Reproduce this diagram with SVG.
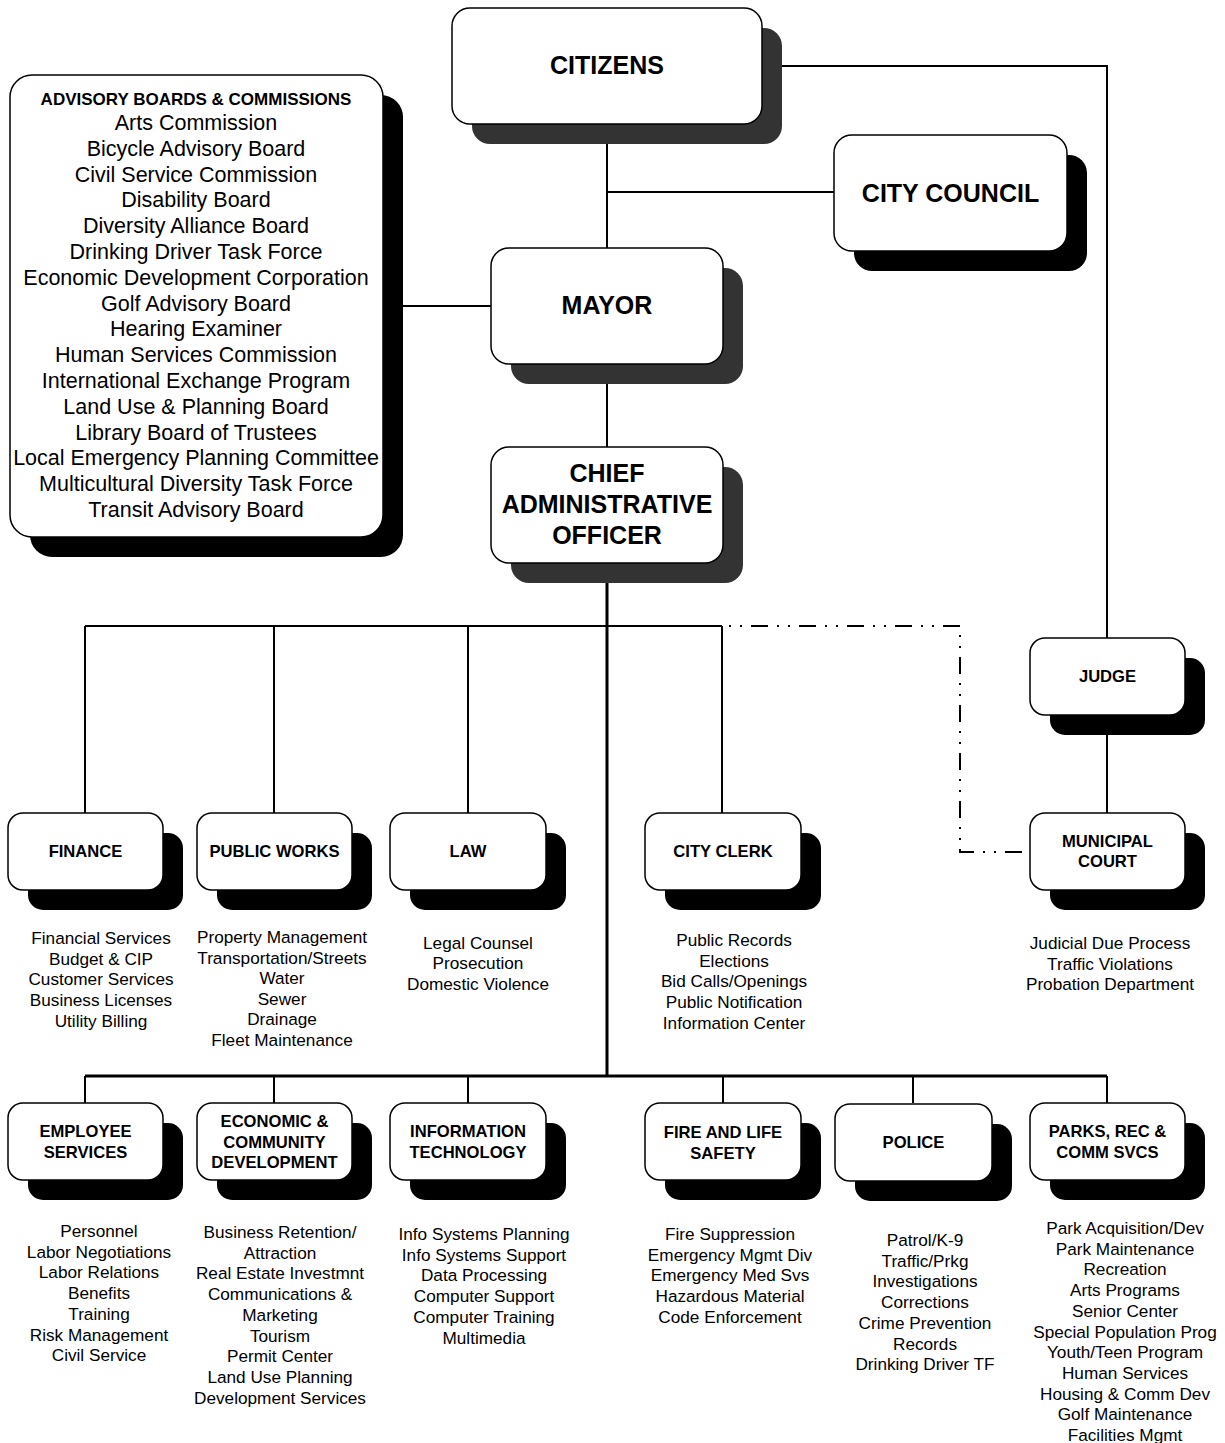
<svg xmlns="http://www.w3.org/2000/svg" width="1225" height="1443" viewBox="0 0 1225 1443">
<style>
.bx{fill:#fff;stroke:#000;stroke-width:1.5}
.sd{fill:#000}
.sg{fill:#333}
.big{font-family:"Liberation Sans",Arial,sans-serif;font-weight:bold;font-size:25px;text-anchor:middle}
.hd{font-family:"Liberation Sans",Arial,sans-serif;font-weight:bold;font-size:16.6px;text-anchor:middle}
.li{font-family:"Liberation Sans",Arial,sans-serif;font-size:17.2px;text-anchor:middle}
.ad{font-family:"Liberation Sans",Arial,sans-serif;font-size:21.5px;text-anchor:middle}
.adh{font-family:"Liberation Sans",Arial,sans-serif;font-weight:bold;font-size:17px;text-anchor:middle}
.ln{fill:none;stroke:#000;stroke-width:2}
.th{fill:none;stroke:#000;stroke-width:3}
.dd{fill:none;stroke:#000;stroke-width:2;stroke-dasharray:17 9 2 9 2 9}
</style>
<g id="connectors">
<path class="ln" d="M762 66 H1107 V638"/>
<path class="ln" d="M607 144 V248"/>
<path class="ln" d="M607 192 H834"/>
<path class="ln" d="M383 306 H491"/>
<path class="ln" d="M607 384 V447"/>
<path class="th" d="M607 583 V1076"/>
<path class="ln" d="M85 626 H722"/>
<path class="ln" d="M85 626 V813 M274 626 V813 M468 626 V813 M722 626 V813"/>
<path class="dd" d="M607 626 H960 V852 H1030"/>
<path class="ln" d="M1107 735 V813"/>
<path class="th" d="M85 1076 H1107"/>
<path class="ln" d="M85 1076 V1103 M274 1076 V1103 M468 1076 V1103 M723 1076 V1103 M913 1076 V1103 M1107 1076 V1103"/>
</g>
<g id="citizens">
<rect class="sg" x="472" y="28" width="310" height="116" rx="18"/>
<rect class="bx" x="452" y="8" width="310" height="116" rx="18"/>
<text class="big" x="607" y="74">CITIZENS</text>
</g>
<g id="city-council">
<rect class="sd" x="854" y="155" width="233" height="116" rx="18"/>
<rect class="bx" x="834" y="135" width="233" height="116" rx="18"/>
<text class="big" x="950.5" y="202">CITY COUNCIL</text>
</g>
<g id="mayor">
<rect class="sg" x="511" y="268" width="232" height="116" rx="18"/>
<rect class="bx" x="491" y="248" width="232" height="116" rx="18"/>
<text class="big" x="607" y="314">MAYOR</text>
</g>
<g id="cao">
<rect class="sg" x="511" y="467" width="232" height="116" rx="18"/>
<rect class="bx" x="491" y="447" width="232" height="116" rx="18"/>
<text class="big" x="607" y="482">CHIEF</text>
<text class="big" x="607" y="513">ADMINISTRATIVE</text>
<text class="big" x="607" y="544">OFFICER</text>
</g>
<g id="advisory">
<rect class="sd" x="30" y="95" width="373" height="462" rx="22"/>
<rect class="bx" x="10" y="75" width="373" height="462" rx="22"/>
<text class="adh" x="196" y="105">ADVISORY BOARDS &amp; COMMISSIONS</text>
<text class="ad" x="196" y="130">Arts Commission</text>
<text class="ad" x="196" y="155.8">Bicycle Advisory Board</text>
<text class="ad" x="196" y="181.6">Civil Service Commission</text>
<text class="ad" x="196" y="207.4">Disability Board</text>
<text class="ad" x="196" y="233.2">Diversity Alliance Board</text>
<text class="ad" x="196" y="259">Drinking Driver Task Force</text>
<text class="ad" x="196" y="284.8">Economic Development Corporation</text>
<text class="ad" x="196" y="310.6">Golf Advisory Board</text>
<text class="ad" x="196" y="336.4">Hearing Examiner</text>
<text class="ad" x="196" y="362.2">Human Services Commission</text>
<text class="ad" x="196" y="388">International Exchange Program</text>
<text class="ad" x="196" y="413.8">Land Use &amp; Planning Board</text>
<text class="ad" x="196" y="439.6">Library Board of Trustees</text>
<text class="ad" x="196" y="465.4">Local Emergency Planning Committee</text>
<text class="ad" x="196" y="491.2">Multicultural Diversity Task Force</text>
<text class="ad" x="196" y="517">Transit Advisory Board</text>
</g>
<g id="judge">
<rect class="sd" x="1050" y="658" width="155" height="77" rx="15"/>
<rect class="bx" x="1030" y="638" width="155" height="77" rx="15"/>
<text class="hd" x="1107.5" y="682">JUDGE</text>
</g>
<g id="finance">
<rect class="sd" x="28" y="833" width="155" height="77" rx="15"/>
<rect class="bx" x="8" y="813" width="155" height="77" rx="15"/>
<text class="hd" x="85.5" y="857">FINANCE</text>
<text class="li" x="101" y="944">Financial Services</text>
<text class="li" x="101" y="964.7">Budget &amp; CIP</text>
<text class="li" x="101" y="985.4">Customer Services</text>
<text class="li" x="101" y="1006.1">Business Licenses</text>
<text class="li" x="101" y="1026.8">Utility Billing</text>
</g>
<g id="public-works">
<rect class="sd" x="217" y="833" width="155" height="77" rx="15"/>
<rect class="bx" x="197" y="813" width="155" height="77" rx="15"/>
<text class="hd" x="274.5" y="857">PUBLIC WORKS</text>
<text class="li" x="282" y="943">Property Management</text>
<text class="li" x="282" y="963.5">Transportation/Streets</text>
<text class="li" x="282" y="984">Water</text>
<text class="li" x="282" y="1004.5">Sewer</text>
<text class="li" x="282" y="1025">Drainage</text>
<text class="li" x="282" y="1045.5">Fleet Maintenance</text>
</g>
<g id="law">
<rect class="sd" x="410" y="833" width="156" height="77" rx="15"/>
<rect class="bx" x="390" y="813" width="156" height="77" rx="15"/>
<text class="hd" x="468" y="857">LAW</text>
<text class="li" x="478" y="948.5">Legal Counsel</text>
<text class="li" x="478" y="969">Prosecution</text>
<text class="li" x="478" y="989.5">Domestic Violence</text>
</g>
<g id="city-clerk">
<rect class="sd" x="665" y="833" width="156" height="77" rx="15"/>
<rect class="bx" x="645" y="813" width="156" height="77" rx="15"/>
<text class="hd" x="723" y="857">CITY CLERK</text>
<text class="li" x="734" y="946">Public Records</text>
<text class="li" x="734" y="966.7">Elections</text>
<text class="li" x="734" y="987.4">Bid Calls/Openings</text>
<text class="li" x="734" y="1008.1">Public Notification</text>
<text class="li" x="734" y="1028.8">Information Center</text>
</g>
<g id="municipal-court">
<rect class="sd" x="1050" y="833" width="155" height="77" rx="15"/>
<rect class="bx" x="1030" y="813" width="155" height="77" rx="15"/>
<text class="hd" x="1107.5" y="847">MUNICIPAL</text>
<text class="hd" x="1107.5" y="867">COURT</text>
<text class="li" x="1110" y="949">Judicial Due Process</text>
<text class="li" x="1110" y="969.5">Traffic Violations</text>
<text class="li" x="1110" y="990">Probation Department</text>
</g>
<g id="employee-services">
<rect class="sd" x="28" y="1123" width="155" height="77" rx="15"/>
<rect class="bx" x="8" y="1103" width="155" height="77" rx="15"/>
<text class="hd" x="85.5" y="1137">EMPLOYEE</text>
<text class="hd" x="85.5" y="1158">SERVICES</text>
<text class="li" x="99" y="1237">Personnel</text>
<text class="li" x="99" y="1257.7">Labor Negotiations</text>
<text class="li" x="99" y="1278.4">Labor Relations</text>
<text class="li" x="99" y="1299.1">Benefits</text>
<text class="li" x="99" y="1319.8">Training</text>
<text class="li" x="99" y="1340.5">Risk Management</text>
<text class="li" x="99" y="1361.2">Civil Service</text>
</g>
<g id="economic-community-development">
<rect class="sd" x="217" y="1123" width="155" height="77" rx="15"/>
<rect class="bx" x="197" y="1103" width="155" height="77" rx="15"/>
<text class="hd" x="274.5" y="1127">ECONOMIC &amp;</text>
<text class="hd" x="274.5" y="1147.5">COMMUNITY</text>
<text class="hd" x="274.5" y="1168">DEVELOPMENT</text>
<text class="li" x="280" y="1238">Business Retention/</text>
<text class="li" x="280" y="1258.7">Attraction</text>
<text class="li" x="280" y="1279.4">Real Estate Investmnt</text>
<text class="li" x="280" y="1300.1">Communications &amp;</text>
<text class="li" x="280" y="1320.8">Marketing</text>
<text class="li" x="280" y="1341.5">Tourism</text>
<text class="li" x="280" y="1362.2">Permit Center</text>
<text class="li" x="280" y="1382.9">Land Use Planning</text>
<text class="li" x="280" y="1403.6">Development Services</text>
</g>
<g id="information-technology">
<rect class="sd" x="410" y="1123" width="156" height="77" rx="15"/>
<rect class="bx" x="390" y="1103" width="156" height="77" rx="15"/>
<text class="hd" x="468" y="1137">INFORMATION</text>
<text class="hd" x="468" y="1158">TECHNOLOGY</text>
<text class="li" x="484" y="1240">Info Systems Planning</text>
<text class="li" x="484" y="1260.7">Info Systems Support</text>
<text class="li" x="484" y="1281.4">Data Processing</text>
<text class="li" x="484" y="1302.1">Computer Support</text>
<text class="li" x="484" y="1322.8">Computer Training</text>
<text class="li" x="484" y="1343.5">Multimedia</text>
</g>
<g id="fire-life-safety">
<rect class="sd" x="665" y="1123" width="156" height="77" rx="15"/>
<rect class="bx" x="645" y="1103" width="156" height="77" rx="15"/>
<text class="hd" x="723" y="1138">FIRE AND LIFE</text>
<text class="hd" x="723" y="1159">SAFETY</text>
<text class="li" x="730" y="1240">Fire Suppression</text>
<text class="li" x="730" y="1260.7">Emergency Mgmt Div</text>
<text class="li" x="730" y="1281.4">Emergency Med Svs</text>
<text class="li" x="730" y="1302.1">Hazardous Material</text>
<text class="li" x="730" y="1322.8">Code Enforcement</text>
</g>
<g id="police">
<rect class="sd" x="855" y="1124" width="157" height="77" rx="15"/>
<rect class="bx" x="835" y="1104" width="157" height="77" rx="15"/>
<text class="hd" x="913.5" y="1148">POLICE</text>
<text class="li" x="925" y="1246">Patrol/K-9</text>
<text class="li" x="925" y="1266.7">Traffic/Prkg</text>
<text class="li" x="925" y="1287.4">Investigations</text>
<text class="li" x="925" y="1308.1">Corrections</text>
<text class="li" x="925" y="1328.8">Crime Prevention</text>
<text class="li" x="925" y="1349.5">Records</text>
<text class="li" x="925" y="1370.2">Drinking Driver TF</text>
</g>
<g id="parks-rec">
<rect class="sd" x="1050" y="1123" width="155" height="77" rx="15"/>
<rect class="bx" x="1030" y="1103" width="155" height="77" rx="15"/>
<text class="hd" x="1107.5" y="1137">PARKS, REC &amp;</text>
<text class="hd" x="1107.5" y="1158">COMM SVCS</text>
<text class="li" x="1125" y="1234">Park Acquisition/Dev</text>
<text class="li" x="1125" y="1254.7">Park Maintenance</text>
<text class="li" x="1125" y="1275.4">Recreation</text>
<text class="li" x="1125" y="1296.1">Arts Programs</text>
<text class="li" x="1125" y="1316.8">Senior Center</text>
<text class="li" x="1125" y="1337.5">Special Population Prog</text>
<text class="li" x="1125" y="1358.2">Youth/Teen Program</text>
<text class="li" x="1125" y="1378.9">Human Services</text>
<text class="li" x="1125" y="1399.6">Housing &amp; Comm Dev</text>
<text class="li" x="1125" y="1420.3">Golf Maintenance</text>
<text class="li" x="1125" y="1441">Facilities Mgmt</text>
</g>
</svg>
